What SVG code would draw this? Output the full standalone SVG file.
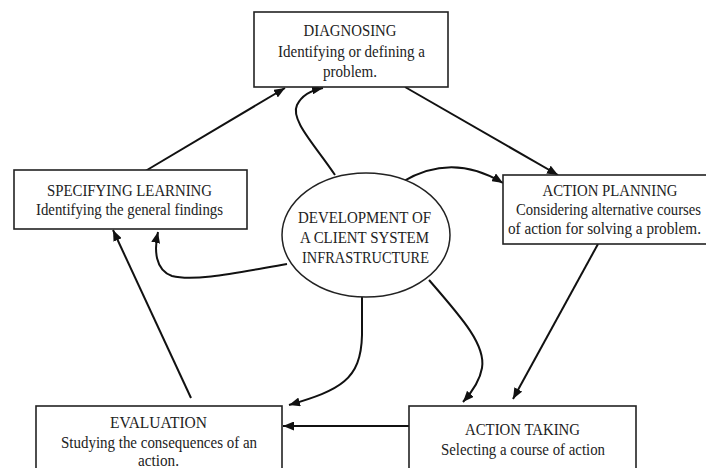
<svg xmlns="http://www.w3.org/2000/svg" width="706" height="468" viewBox="0 0 706 468">
  <defs>
    <marker id="arrow" markerUnits="userSpaceOnUse" markerWidth="11" markerHeight="9" refX="11" refY="4.5" orient="auto">
      <path d="M0,0 L11,4.5 L0,9 z" fill="#111"/>
    </marker>
    <style>
      .box { fill: #fff; stroke: #222; stroke-width: 1.6; }
      .hub { fill: #fff; stroke: #222; stroke-width: 1.5; }
      .lbl { font-family: "Liberation Serif", "Times New Roman", serif; font-size: 16px; fill: #222; text-anchor: middle; }
      .link { fill: none; stroke: #111; stroke-width: 2; marker-end: url(#arrow); }
    </style>
  </defs>
  <rect width="706" height="468" fill="#fff"/>

  <!-- connectors -->
  <g id="connectors">
    <path class="link" d="M142,173 L285,88"/>
    <path class="link" d="M335,175 C315,145 290,120 297,105 C302,95 312,90 323,88"/>
    <path class="link" d="M405,87 L558,175"/>
    <path class="link" d="M402,182 Q452,152 503,183"/>
    <path class="link" d="M598,244 L513,399"/>
    <path class="link" d="M429,280 C462,318 486,345 482,368 C480,380 472,392 463,402"/>
    <path class="link" d="M362,297 L362,335 C361,380 340,390 289,405"/>
    <path class="link" d="M409,426 L283,426"/>
    <path class="link" d="M191,398 L113,230"/>
    <path class="link" d="M287,264 C240,272 195,282 172,276 C155,270 154,250 158,232"/>
  </g>

  <g id="diagnosing">
    <rect class="box" x="254" y="12" width="194" height="75"/>
    <text class="lbl" x="350" y="35.5" textLength="93" lengthAdjust="spacingAndGlyphs">DIAGNOSING</text>
    <text class="lbl" x="351.5" y="56.5" textLength="147" lengthAdjust="spacingAndGlyphs">Identifying or defining a</text>
    <text class="lbl" x="350" y="76.5" textLength="54" lengthAdjust="spacingAndGlyphs">problem.</text>
  </g>

  <g id="specifying-learning">
    <rect class="box" x="14" y="170" width="233" height="59"/>
    <text class="lbl" x="129.5" y="196" textLength="165" lengthAdjust="spacingAndGlyphs">SPECIFYING LEARNING</text>
    <text class="lbl" x="129.5" y="215" textLength="187" lengthAdjust="spacingAndGlyphs">Identifying the general findings</text>
  </g>

  <g id="client-infrastructure">
    <ellipse class="hub" cx="366" cy="235" rx="84" ry="62"/>
    <text class="lbl" x="364.5" y="223" textLength="133" lengthAdjust="spacingAndGlyphs">DEVELOPMENT OF</text>
    <text class="lbl" x="364.5" y="243" textLength="129" lengthAdjust="spacingAndGlyphs">A CLIENT SYSTEM</text>
    <text class="lbl" x="365.5" y="263" textLength="127" lengthAdjust="spacingAndGlyphs">INFRASTRUCTURE</text>
  </g>

  <g id="action-planning">
    <rect class="box" x="503" y="175" width="215" height="69"/>
    <text class="lbl" x="610" y="196" textLength="135" lengthAdjust="spacingAndGlyphs">ACTION PLANNING</text>
    <text class="lbl" x="608.5" y="215" textLength="185" lengthAdjust="spacingAndGlyphs">Considering alternative courses</text>
    <text class="lbl" x="604.5" y="234" textLength="193" lengthAdjust="spacingAndGlyphs">of action for solving a problem.</text>
  </g>

  <g id="evaluation">
    <rect class="box" x="36" y="406" width="246" height="75"/>
    <text class="lbl" x="158.5" y="427.5" textLength="97" lengthAdjust="spacingAndGlyphs">EVALUATION</text>
    <text class="lbl" x="159" y="447.5" textLength="196" lengthAdjust="spacingAndGlyphs">Studying the consequences of an</text>
    <text class="lbl" x="158.5" y="465.5" textLength="41" lengthAdjust="spacingAndGlyphs">action.</text>
  </g>

  <g id="action-taking">
    <rect class="box" x="409" y="406" width="227" height="75"/>
    <text class="lbl" x="522.5" y="434.5" textLength="115" lengthAdjust="spacingAndGlyphs">ACTION TAKING</text>
    <text class="lbl" x="523" y="454.5" textLength="164" lengthAdjust="spacingAndGlyphs">Selecting a course of action</text>
  </g>
</svg>
